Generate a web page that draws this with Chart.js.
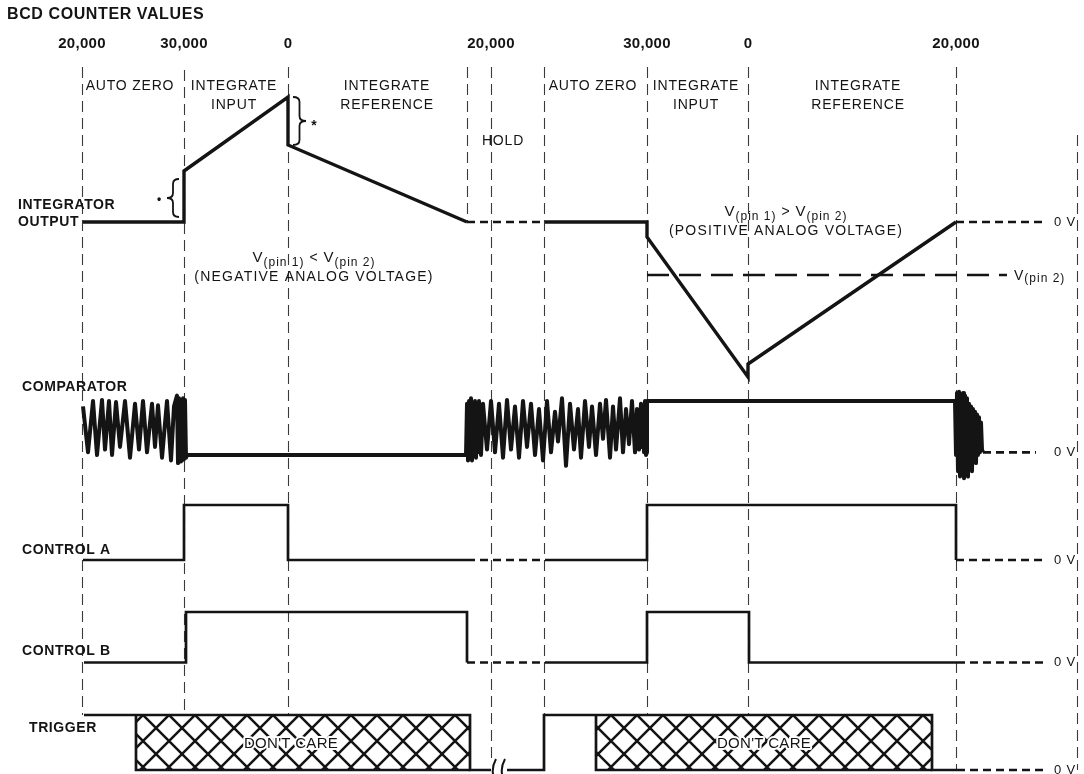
<!DOCTYPE html>
<html>
<head>
<meta charset="utf-8">
<script src="https://cdn.jsdelivr.net/npm/chart.js@4.4.1/dist/chart.umd.min.js"></script>
<style>
html,body{margin:0;padding:0;background:#fff;}
#wrap{width:1084px;height:774px;position:relative;}
</style>
</head>
<body>
<div id="wrap"><canvas id="c"></canvas></div>
<script>
// ================= DATA =================
const title = 'BCD COUNTER VALUES';
const counterTimes  = [82, 184, 288, 491, 647, 748, 956];
const counterLabels = ['20,000', '30,000', '0', '20,000', '30,000', '0', '20,000'];
const phaseTimes = [82, 184, 288, 467, 491, 544, 647, 748, 956, 1077];
const phaseNames = [['AUTO ZERO'], ['INTEGRATE', 'INPUT'], ['INTEGRATE', 'REFERENCE'], ['HOLD'],
                    ['AUTO ZERO'], ['INTEGRATE', 'INPUT'], ['INTEGRATE', 'REFERENCE']];
const laneNames = [['INTEGRATOR', 'OUTPUT'], ['COMPARATOR'], ['CONTROL A'], ['CONTROL B'], ['TRIGGER']];

// Integrator output (arbitrary volts, 0 = 0 V)
const integT1 = [83, 184, 184, 288, 288, 467];
const integV1 = [0, 0, 5.1, 12.5, 7.7, 0];
const integHoldT = [467, 545];
const integHoldV = [0, 0];
const integT2 = [545, 647, 647, 748, 748, 956];
const integV2 = [0, 0, -1.5, -15.5, -14.2, 0];
const integTailT = [956, 1043];
const integTailV = [0, 0];
const vpin2T = [647, 1007];
const vpin2V = [-5.3, -5.3];

// Comparator (logic level)
const compT = [83,88,93,97,102,105,109,112,116,120,125,130,135,139,143,147,152,155,158,162,167,171,174,177,178,179,180,181,182,183,184,185,186,187,
  466,467,468,469,470,471,472,473,474,475,476,477,478,479,481,483,487,491,495,499,503,507,511,515,519,523,527,531,535,539,543,547,551,555,558,562,566,570,574,578,581,585,589,592,596,600,603,606,610,613,616,620,623,626,629,632,635,637,639,641,642,643,644,645,646,647,647,
  955,956,957,958,959,960,961,962,963,964,965,966,967,968,969,970,971,972,973,974,975,976,977,978,979,980,981,982,983];
const compV = [0.9,0.05,1.0,0.0,1.02,0.1,1.0,0.0,0.98,0.15,1.0,-0.05,0.95,0.1,1.0,0.05,0.95,0.15,0.92,-0.05,1.0,-0.1,0.9,1.1,-0.15,1.05,-0.12,1.0,-0.1,1.05,-0.08,1.02,-0.05,0.0,
  0.0,0.95,-0.1,1.0,-0.05,1.05,-0.1,0.95,0.0,1.0,-0.05,0.9,0.05,1.0,0.0,0.95,0.1,1.0,0.05,0.95,-0.05,1.02,0.1,0.9,-0.05,1.0,0.15,0.95,0.0,0.85,-0.1,1.0,0.05,0.8,0.25,1.05,-0.2,0.95,0.1,0.85,-0.05,1.0,0.15,0.9,0.0,0.95,0.3,1.02,-0.05,0.9,0.1,1.05,0.05,0.85,0.2,1.0,0.05,0.85,0.1,0.95,0.15,0.9,0.05,1.0,0.0,0.05,1.0,
  1.0,0.0,1.15,-0.3,1.17,-0.4,1.12,-0.35,1.15,-0.43,1.1,-0.3,1.05,-0.4,0.95,-0.2,0.9,-0.3,0.85,-0.1,0.8,-0.15,0.75,0.0,0.7,0.05,0.6,0.1,0.05];
const compTailT = [983, 1036];
const compTailV = [0.05, 0.05];

// Control A
const ctrlAT1 = [83, 184, 184, 288, 288, 467];
const ctrlAV1 = [0, 0, 1, 1, 0, 0];
const ctrlAHoldT = [467, 548];
const ctrlAHoldV = [0, 0];
const ctrlAT2 = [548, 647, 647, 956, 956];
const ctrlAV2 = [0, 0, 1, 1, 0];
const ctrlATailT = [956, 1043];
const ctrlATailV = [0, 0];

// Control B
const ctrlBT1 = [84, 186, 186, 467, 467];
const ctrlBV1 = [0, 0, 1, 1, 0];
const ctrlBHoldT = [467, 547];
const ctrlBHoldV = [0, 0];
const ctrlBT2 = [547, 647, 647, 749, 749, 957];
const ctrlBV2 = [0, 0, 1, 1, 0, 0];
const ctrlBTailT = [957, 1043];
const ctrlBTailV = [0, 0];

// Trigger
const trigT1 = [84, 136, 470, 470, 491];
const trigV1 = [1, 1, 1, 0, 0];
const trigBoxEdge1T = [136, 136, 470];
const trigBoxEdge1V = [1, 0, 0];
const trigT2 = [507, 544, 544, 596, 932, 932, 957];
const trigV2 = [0, 0, 1, 1, 1, 0, 0];
const trigBoxEdge2T = [596, 596, 932];
const trigBoxEdge2V = [1, 0, 0];
const trigTailT = [957, 1043];
const trigTailV = [0, 0];
const dontCareT = [[136, 470], [596, 932]];
const dontCareLabel = "DON'T CARE";

// ================= LAYOUT / STYLE =================
const W = 1084, H = 774;
const INK = '#141414';
const FONT = '"Liberation Sans", Arial, Helvetica, sans-serif';
const lanes = {
  yInt: {base: 222,   unit: 10},
  yCmp: {base: 455,   unit: 54},
  yA:   {base: 560,   unit: 55},
  yB:   {base: 662.5, unit: 50.5},
  yTrg: {base: 770,   unit: 55}
};
const guideSpan = [
  {top: 67, axis: 'yTrg', v: 1}, {top: 70, axis: 'yTrg', v: 1}, {top: 67, axis: 'yTrg', v: 1},
  {top: 67, axis: 'yInt', v: 0}, {top: 67, axis: 'yTrg', v: 0.2}, {top: 67, axis: 'yTrg', v: 1},
  {top: 67, axis: 'yTrg', v: 1}, {top: 67, axis: 'yTrg', v: 1}, {top: 67, axis: 'yTrg', v: 0},
  {top: 135, axis: 'yTrg', v: 0}
];
const phaseLabelPos = [[130, 86], [234, 86], [387, 86], [503, 141], [593, 86], [696, 86], [858, 86]];
const laneLabelPos = [[18, 205], [22, 387], [22, 550], [22, 651], [29, 728]];

function laneScale(l) {
  const max = l.base / l.unit;
  return {type: 'linear', display: false, min: max - H / l.unit, max: max};
}
function pts(T, V) { return T.map((t, i) => ({x: t, y: V[i]})); }
function series(T, V, axis, o) {
  return Object.assign({
    data: pts(T, V), yAxisID: axis, showLine: true, borderColor: INK, borderWidth: 2.7,
    pointRadius: 0, pointHoverRadius: 0, fill: false, tension: 0,
    borderJoinStyle: 'miter', borderCapStyle: 'butt', order: 1
  }, o || {});
}
const DASH = [8, 5];

function hatchPattern() {
  const s = 26;
  const c = document.createElement('canvas');
  c.width = s; c.height = s;
  const g = c.getContext('2d');
  g.fillStyle = '#fff'; g.fillRect(0, 0, s, s);
  g.strokeStyle = INK; g.lineWidth = 2.5;
  g.beginPath();
  for (const k of [-s, 0, s]) {
    g.moveTo(k - 5, -5); g.lineTo(k + s + 5, s + 5);
    g.moveTo(k + s + 5, -5); g.lineTo(k - 5, s + 5);
  }
  g.stroke();
  return g.createPattern(c, 'repeat');
}
const pattern = hatchPattern();

const datasets = [
  series(integT1, integV1, 'yInt', {borderWidth: 3.4}),
  series(integHoldT, integHoldV, 'yInt', {borderDash: DASH}),
  series(integT2, integV2, 'yInt', {borderWidth: 3.4}),
  series(integTailT, integTailV, 'yInt', {borderDash: DASH}),
  series(vpin2T, vpin2V, 'yInt', {borderDash: [22, 10]}),
  series(compT, compV, 'yCmp', {borderWidth: 4, borderJoinStyle: 'round'}),
  series(compTailT, compTailV, 'yCmp', {borderDash: DASH}),
  series(ctrlAT1, ctrlAV1, 'yA'),
  series(ctrlAHoldT, ctrlAHoldV, 'yA', {borderDash: DASH}),
  series(ctrlAT2, ctrlAV2, 'yA'),
  series(ctrlATailT, ctrlATailV, 'yA', {borderDash: DASH}),
  series(ctrlBT1, ctrlBV1, 'yB'),
  series(ctrlBHoldT, ctrlBHoldV, 'yB', {borderDash: DASH}),
  series(ctrlBT2, ctrlBV2, 'yB'),
  series(ctrlBTailT, ctrlBTailV, 'yB', {borderDash: DASH}),
  series(trigT1, trigV1, 'yTrg'),
  series(trigBoxEdge1T, trigBoxEdge1V, 'yTrg'),
  series(trigT2, trigV2, 'yTrg'),
  series(trigBoxEdge2T, trigBoxEdge2V, 'yTrg'),
  series(trigTailT, trigTailV, 'yTrg', {borderDash: DASH})
];
dontCareT.forEach(r => datasets.push(series(r, [1, 1], 'yTrg', {
  borderWidth: 0, fill: {value: 0}, backgroundColor: pattern, order: 10
})));

function txt(ctx, s, x, y, font, align, spacing) {
  ctx.font = font;
  ctx.letterSpacing = (spacing || 0) + 'px';
  ctx.textAlign = align || 'center';
  ctx.textBaseline = 'middle';
  ctx.fillStyle = INK;
  ctx.fillText(s, x, y);
}
function expr(ctx, parts, cx, baseY, align) {
  ctx.textAlign = 'left'; ctx.textBaseline = 'alphabetic'; ctx.fillStyle = INK;
  let w = 0;
  parts.forEach(p => { ctx.font = p[1] + 'px ' + FONT; ctx.letterSpacing = '1px'; w += ctx.measureText(p[0]).width; });
  let x = align === 'left' ? cx : cx - w / 2;
  parts.forEach(p => {
    ctx.font = p[1] + 'px ' + FONT; ctx.letterSpacing = '1px';
    ctx.fillText(p[0], x, baseY + p[2]);
    x += ctx.measureText(p[0]).width;
  });
}
function brace(ctx, x, y1, y2, w, dir) {
  const ym = (y1 + y2) / 2, r = 5, xm = x + dir * w / 2, xt = x + dir * w;
  ctx.beginPath();
  ctx.moveTo(x, y1);
  ctx.quadraticCurveTo(xm, y1, xm, y1 + r);
  ctx.lineTo(xm, ym - r);
  ctx.quadraticCurveTo(xm, ym, xt, ym);
  ctx.quadraticCurveTo(xm, ym, xm, ym + r);
  ctx.lineTo(xm, y2 - r);
  ctx.quadraticCurveTo(xm, y2, x, y2);
  ctx.stroke();
}

const timingPlugin = {
  id: 'timing',
  beforeDatasetsDraw(chart) {
    const {ctx, scales} = chart;
    ctx.save();
    ctx.strokeStyle = '#3a3a3a'; ctx.lineWidth = 1.1; ctx.setLineDash([11, 6]);
    phaseTimes.forEach((t, i) => {
      const x = Math.round(scales.x.getPixelForValue(t)) + 0.5;
      const g = guideSpan[i];
      ctx.beginPath(); ctx.moveTo(x, g.top); ctx.lineTo(x, scales[g.axis].getPixelForValue(g.v)); ctx.stroke();
    });
    ctx.restore();
  },
  afterDatasetsDraw(chart) {
    const {ctx, scales} = chart;
    const X = v => scales.x.getPixelForValue(v);
    ctx.save();
    // title + counter values
    txt(ctx, title, 7, 15, 'bold 16px ' + FONT, 'left', 0.6);
    counterTimes.forEach((t, i) => txt(ctx, counterLabels[i], X(t), 44, 'bold 15px ' + FONT, 'center', 0.3));
    // phase names
    phaseNames.forEach((lines, i) => {
      const p = phaseLabelPos[i];
      lines.forEach((s, j) => txt(ctx, s, X(p[0]), p[1] + j * 19, '14px ' + FONT, 'center', 0.8));
    });
    // lane names
    laneNames.forEach((lines, i) => {
      const p = laneLabelPos[i];
      lines.forEach((s, j) => txt(ctx, s, p[0], p[1] + j * 17, 'bold 14px ' + FONT, 'left', 0.6));
    });
    // 0 V labels
    [['yInt', 0], ['yCmp', 0.05], ['yA', 0], ['yB', 0], ['yTrg', 0]].forEach(a =>
      txt(ctx, '0 V', 1054, scales[a[0]].getPixelForValue(a[1]), '13px ' + FONT, 'left', 0.8));
    // V(pin 2) label
    const yv2 = scales.yInt.getPixelForValue(vpin2V[0]);
    expr(ctx, [['V', 14, 0], ['(pin 2)', 12, 2]], X(1014), yv2 + 5, 'left');
    // annotations
    expr(ctx, [['V', 15, 0], ['(pin 1)', 12, 4], [' < ', 14, 0], ['V', 15, 0], ['(pin 2)', 12, 4]], X(314), 262);
    txt(ctx, '(NEGATIVE ANALOG VOLTAGE)', X(314), 277, '14px ' + FONT, 'center', 1.2);
    expr(ctx, [['V', 15, 0], ['(pin 1)', 12, 4], [' > ', 14, 0], ['V', 15, 0], ['(pin 2)', 12, 4]], X(786), 216);
    txt(ctx, '(POSITIVE ANALOG VOLTAGE)', X(786), 231, '14px ' + FONT, 'center', 1.2);
    // braces
    ctx.strokeStyle = INK; ctx.lineWidth = 1.8; ctx.setLineDash([]);
    brace(ctx, X(179), scales.yInt.getPixelForValue(4.3), scales.yInt.getPixelForValue(0.5), 12, -1);
    brace(ctx, X(293), scales.yInt.getPixelForValue(12.5), scales.yInt.getPixelForValue(7.7), 13, 1);
    txt(ctx, '•', X(159), 200, 'bold 12px ' + FONT, 'center', 0);
    txt(ctx, '*', X(314), 126, 'bold 14px ' + FONT, 'center', 0);
    // DON'T CARE labels
    const yc = (scales.yTrg.getPixelForValue(1) + scales.yTrg.getPixelForValue(0)) / 2;
    [[291], [764]].forEach(c => {
      ctx.font = '15px ' + FONT; ctx.letterSpacing = '0.3px';
      ctx.textAlign = 'center'; ctx.textBaseline = 'middle';
      ctx.lineWidth = 4; ctx.strokeStyle = '#fff'; ctx.lineJoin = 'round';
      ctx.strokeText(dontCareLabel, X(c[0]), yc + 1);
      ctx.fillStyle = INK; ctx.fillText(dontCareLabel, X(c[0]), yc + 1);
    });
    // break symbol on trigger
    const yl = scales.yTrg.getPixelForValue(0);
    ctx.strokeStyle = INK; ctx.lineWidth = 2;
    [494, 503].forEach(t => {
      const x = X(t);
      ctx.beginPath(); ctx.moveTo(x + 2, yl - 11); ctx.quadraticCurveTo(x - 4, yl, x + 1, yl + 10); ctx.stroke();
    });
    ctx.restore();
  }
};

const scales = {x: {type: 'linear', display: false, min: 0, max: W}};
Object.keys(lanes).forEach(k => { scales[k] = laneScale(lanes[k]); });

new Chart(document.getElementById('c'), {
  type: 'scatter',
  data: {datasets},
  options: {
    responsive: true, maintainAspectRatio: false, animation: false,
    layout: {padding: 0},
    scales,
    plugins: {legend: {display: false}, tooltip: {enabled: false}, title: {display: false}},
    events: []
  },
  plugins: [timingPlugin]
});
</script>
</body>
</html>
